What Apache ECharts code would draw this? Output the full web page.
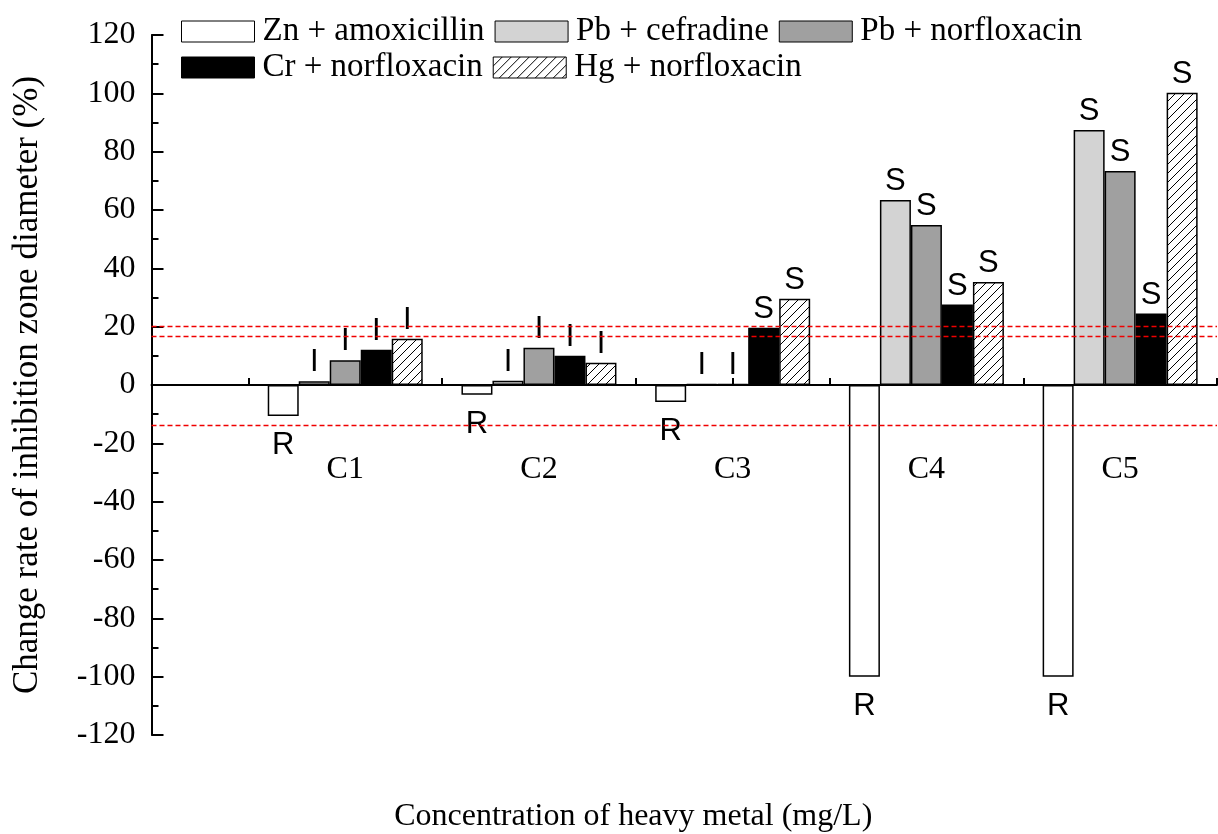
<!DOCTYPE html>
<html><head><meta charset="utf-8">
<script src="https://cdn.jsdelivr.net/npm/echarts@6/dist/echarts.min.js"></script>
<style>html,body{margin:0;padding:0;background:#fff}#chart{width:1218px;height:834px}</style>
</head><body><div id="chart"></div>
<script>
const categories = ['C1', 'C2', 'C3', 'C4', 'C5'];
const seriesNames = ['Zn + amoxicillin', 'Pb + cefradine', 'Pb + norfloxacin', 'Cr + norfloxacin', 'Hg + norfloxacin'];
const znAmoxicillin = [-10.6, -3.3, -5.8, -100, -100];
const pbCefradine = [1.3, 1.5, 0.3, 63.4, 87.4];
const pbNorfloxacin = [8.5, 12.8, 0.3, 54.9, 73.4];
const crNorfloxacin = [12.1, 10.0, 19.6, 27.6, 24.5];
const hgNorfloxacin = [15.9, 7.6, 29.6, 35.3, 100.2];
const znLabels = ['R', 'R', 'R', 'R', 'R'];
const pbCefLabels = ['I', 'I', 'I', 'S', 'S'];
const pbNorLabels = ['I', 'I', 'I', 'S', 'S'];
const crLabels = ['I', 'I', 'S', 'S', 'S'];
const hgLabels = ['I', 'I', 'S', 'S', 'S'];
const thresholds = [20, 16.8, -13.9];

function hatchPattern() {
  const c = document.createElement('canvas');
  c.width = 9; c.height = 9;
  const g = c.getContext('2d');
  g.fillStyle = '#fff'; g.fillRect(0, 0, 9, 9);
  g.strokeStyle = '#000'; g.lineWidth = 1;
  g.beginPath();
  g.moveTo(0, 9); g.lineTo(9, 0);
  g.moveTo(-1, 1); g.lineTo(1, -1);
  g.moveTo(8, 10); g.lineTo(10, 8);
  g.stroke();
  return c;
}

const allValues = [znAmoxicillin, pbCefradine, pbNorfloxacin, crNorfloxacin, hgNorfloxacin];
const allLabels = [znLabels, pbCefLabels, pbNorLabels, crLabels, hgLabels];
const fills = ['#ffffff', '#d3d3d3', '#a0a0a0', '#000000', { image: hatchPattern(), repeat: 'repeat' }];
const serif = 'Liberation Serif';

const series = allValues.map((vals, si) => ({
  name: seriesNames[si],
  type: 'bar',
  barWidth: 31,
  barGap: '0%',
  itemStyle: { color: fills[si], borderColor: '#000', borderWidth: 1.5 },
  label: {
    show: true,
    formatter: p => allLabels[si][p.dataIndex],
    fontFamily: 'Liberation Sans', fontSize: 31, lineHeight: 31, color: '#000'
  },
  data: vals.map((v, i) => ({
    value: [i + 1, v],
    label: { position: v < 0 ? 'bottom' : 'top', distance: v < 0 ? 14 : 3 }
  }))
}));

// threshold lines, each drawn by its own markLine on a data-less line series
thresholds.forEach((t, k) => {
  series.push({
    type: 'line', data: [], silent: true, z: 5,
    markLine: {
      silent: true, symbol: 'none', label: { show: false },
      emphasis: { disabled: true },
      lineStyle: { color: '#f00000', type: [5, 3], width: 1.4, opacity: 1 },
      data: [{ yAxis: t }]
    }
  });
});

const legendBase = {
  left: 176, icon: 'rect', itemWidth: 73, itemHeight: 21, itemGap: 10,
  itemStyle: { borderColor: '#000', borderWidth: 1 },
  textStyle: { fontFamily: serif, fontSize: 33, color: '#000', padding: [0, 0, 0, 3] }
};

const chart = echarts.init(document.getElementById('chart'));
chart.setOption({
  animation: false,
  backgroundColor: '#fff',
  grid: { left: 151.5, right: 1, top: 35, height: 700, outerBoundsMode: 'none', containLabel: false },
  legend: [
    Object.assign({}, legendBase, { top: 10, data: seriesNames.slice(0, 3) }),
    Object.assign({}, legendBase, { top: 46, data: seriesNames.slice(3) })
  ],
  xAxis: {
    type: 'value', min: 0, max: 5.5, interval: 0.5,
    axisLine: { onZero: true, lineStyle: { color: '#000', width: 2 } },
    axisTick: { inside: true, length: 7, lineStyle: { color: '#000', width: 2 } },
    splitLine: { show: false },
    axisLabel: {
      margin: -281, fontFamily: serif, fontSize: 32, color: '#000',
      formatter: v => (Number.isInteger(v) && v >= 1 && v <= categories.length) ? categories[v - 1] : ''
    },
    name: 'Concentration of heavy metal (mg/L)', nameLocation: 'middle', nameGap: 66,
    nameTextStyle: { fontFamily: serif, fontSize: 32, color: '#000', padding: [0, 102, 0, 0] }
  },
  yAxis: {
    type: 'value', min: -120, max: 120, interval: 20,
    axisLine: { show: true, onZero: false, lineStyle: { color: '#000', width: 2 } },
    axisTick: { show: true, inside: true, length: 12, lineStyle: { color: '#000', width: 2 } },
    minorTick: { show: true, splitNumber: 2, length: 7, lineStyle: { color: '#000', width: 2 } },
    splitLine: { show: false },
    axisLabel: { margin: 16, fontFamily: serif, fontSize: 32, color: '#000' },
    name: 'Change rate of inhibition zone diameter (%)', nameLocation: 'middle', nameGap: 106,
    nameTextStyle: { fontFamily: serif, fontSize: 35, color: '#000' }
  },
  series: series
});
</script></body></html>
